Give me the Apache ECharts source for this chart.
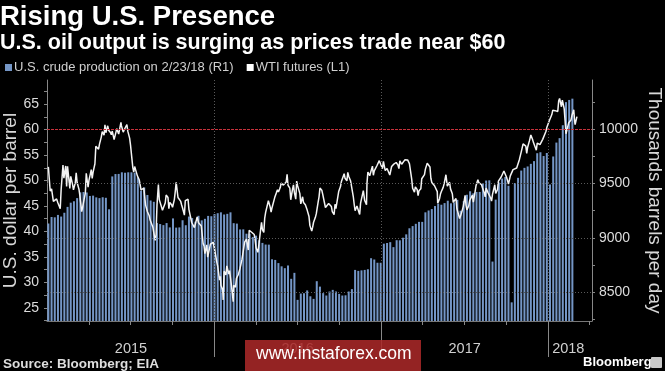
<!DOCTYPE html>
<html><head><meta charset="utf-8">
<script src="https://cdn.jsdelivr.net/npm/echarts@6/dist/echarts.min.js"></script>
<style>html,body{margin:0;padding:0;background:#000}#c{width:665px;height:371px}</style>
</head><body><div id="c"></div>
<script>
// ---- DATA ----
// Weekly U.S. crude production (thousand b/d), one value per Friday from 2015-01-02 to 2018-02-23
const prod2015 = [9132,9192,9189,9211,9196,9231,9285,9324,9337,9366,
  9419,9422,9418,9386,9389,9373,9366,9374,9369,9263,
  9566,9588,9589,9604,9600,9604,9604,9600,9558,9435,
  9465,9395,9344,9332,9136,9127,9117,9136,9096,9179,
  9094,9096,9162,9116,9196,9182,9149,9203,9161,9175,
  9202,9199];
const prod2016 = [9219,9227,9235,9215,9221,9235,9135,9131,9077,9078,
  9038,9038,9008,9020,8977,8953,8938,8937,8802,8796,
  8767,8737,8720,8745,8622,8677,8428,8486,8489,8515,
  8461,8437,8600,8550,8490,8468,8505,8520,8505,8483,
  8468,8470,8505,8527,8704,8695,8700,8704,8710,8812,
  8800,8770,8770];
const prod2017 = [8946,8952,8960,8914,8978,8977,9001,9032,9088,9108,
  9129,9147,9147,9235,9252,9265,9293,9314,9305,9320,
  9342,9318,9327,9350,9250,9338,9397,9429,9410,9423,
  9423,9502,9528,9530,8781,9352,9510,9547,9561,9480,
  8405,9505,9553,9620,9645,9658,9682,9707,9780,9789,
  9754,9782];
const prod2018 = [9492,9750,9878,9919,10038,10251,10271,10283];
const firstProdWeek = '2015-01-02';

// WTI front-month futures (USD/bbl)
const wti = [
['2015-01-02',52.69],['2015-01-06',47.93],['2015-01-09',48.36],['2015-01-13',45.89],['2015-01-15',46.25],['2015-01-20',46.39],['2015-01-23',45.59],['2015-01-28',44.45],['2015-01-30',48.24],['2015-02-03',53.05],['2015-02-05',50.48],['2015-02-09',52.86],['2015-02-11',48.84],['2015-02-13',52.78],['2015-02-18',48.45],['2015-02-20',50.81],['2015-02-24',49.24],['2015-02-26',48.17],['2015-03-02',49.59],['2015-03-04',51.53],['2015-03-06',49.61],['2015-03-10',48.29],['2015-03-12',47.05],['2015-03-16',43.88],['2015-03-18',44.66],['2015-03-20',45.72],['2015-03-24',47.51],['2015-03-26',51.43],['2015-03-30',48.68],['2015-04-01',50.09],['2015-04-06',52.14],['2015-04-08',50.42],['2015-04-10',51.64],['2015-04-14',53.29],['2015-04-16',56.71],['2015-04-20',56.38],['2015-04-22',56.16],['2015-04-24',57.15],['2015-04-28',58.58],['2015-04-30',59.63],['2015-05-04',58.93],['2015-05-06',60.93],['2015-05-08',59.39],['2015-05-12',60.75],['2015-05-14',59.88],['2015-05-18',59.43],['2015-05-20',58.98],['2015-05-22',59.72],['2015-05-26',58.03],['2015-05-28',57.68],['2015-06-01',60.20],['2015-06-03',59.64],['2015-06-05',59.13],['2015-06-10',61.43],['2015-06-11',60.77],['2015-06-15',59.52],['2015-06-17',59.92],['2015-06-19',59.61],['2015-06-23',61.01],['2015-06-25',59.70],['2015-06-29',58.33],['2015-07-01',56.96],['2015-07-06',52.53],['2015-07-08',51.65],['2015-07-10',52.74],['2015-07-14',53.04],['2015-07-16',50.91],['2015-07-20',50.15],['2015-07-22',49.19],['2015-07-24',48.14],['2015-07-28',47.98],['2015-07-30',48.52],['2015-08-03',45.17],['2015-08-05',45.15],['2015-08-07',43.87],['2015-08-11',43.08],['2015-08-13',42.23],['2015-08-17',41.87],['2015-08-19',40.80],['2015-08-21',40.45],['2015-08-24',38.24],['2015-08-26',39.31],['2015-08-27',42.56],['2015-08-28',45.22],['2015-08-31',49.20],['2015-09-02',46.25],['2015-09-04',46.05],['2015-09-09',44.15],['2015-09-11',44.63],['2015-09-15',45.59],['2015-09-17',47.15],['2015-09-21',46.68],['2015-09-23',44.48],['2015-09-25',45.70],['2015-09-29',45.23],['2015-10-01',44.74],['2015-10-05',46.26],['2015-10-07',47.81],['2015-10-09',49.63],['2015-10-13',46.66],['2015-10-15',46.38],['2015-10-19',45.89],['2015-10-21',45.20],['2015-10-23',44.60],['2015-10-27',43.20],['2015-10-29',46.06],['2015-11-02',46.14],['2015-11-04',46.32],['2015-11-06',44.29],['2015-11-10',44.21],['2015-11-12',41.75],['2015-11-16',41.74],['2015-11-18',40.75],['2015-11-20',40.39],['2015-11-24',42.87],['2015-11-27',41.71],['2015-12-01',41.85],['2015-12-03',41.08],['2015-12-07',37.65],['2015-12-09',37.16],['2015-12-11',35.62],['2015-12-15',37.35],['2015-12-17',34.95],['2015-12-21',34.74],['2015-12-23',37.50],['2015-12-29',37.87],['2015-12-31',37.04],
['2016-01-04',36.76],['2016-01-06',33.97],['2016-01-08',33.16],['2016-01-12',30.44],['2016-01-14',31.20],['2016-01-15',29.42],['2016-01-19',28.46],['2016-01-20',26.55],['2016-01-22',32.19],['2016-01-26',31.45],['2016-01-28',33.22],['2016-02-01',31.62],['2016-02-03',32.28],['2016-02-05',30.89],['2016-02-09',27.94],['2016-02-11',26.21],['2016-02-12',29.44],['2016-02-16',29.04],['2016-02-18',30.77],['2016-02-22',31.48],['2016-02-24',32.15],['2016-02-26',32.78],['2016-03-01',34.40],['2016-03-03',34.57],['2016-03-07',37.90],['2016-03-09',38.29],['2016-03-11',38.50],['2016-03-15',36.34],['2016-03-17',40.20],['2016-03-21',39.91],['2016-03-23',39.79],['2016-03-28',39.39],['2016-03-30',38.32],['2016-04-01',36.79],['2016-04-05',35.89],['2016-04-07',37.26],['2016-04-11',40.36],['2016-04-13',41.76],['2016-04-15',40.36],['2016-04-18',39.78],['2016-04-20',42.63],['2016-04-22',43.73],['2016-04-26',44.04],['2016-04-28',46.03],['2016-05-02',44.78],['2016-05-04',43.78],['2016-05-06',44.66],['2016-05-10',44.66],['2016-05-12',46.70],['2016-05-16',47.72],['2016-05-18',48.19],['2016-05-20',47.75],['2016-05-24',48.62],['2016-05-26',49.48],['2016-05-31',49.10],['2016-06-02',49.17],['2016-06-06',49.69],['2016-06-08',51.23],['2016-06-10',49.07],['2016-06-14',48.49],['2016-06-16',46.21],['2016-06-20',48.37],['2016-06-22',49.13],['2016-06-24',47.64],['2016-06-27',46.33],['2016-06-29',49.88],['2016-07-01',48.99],['2016-07-06',47.43],['2016-07-08',45.41],['2016-07-12',46.80],['2016-07-14',45.68],['2016-07-18',45.24],['2016-07-20',44.94],['2016-07-22',44.19],['2016-07-26',42.92],['2016-07-28',41.14],['2016-08-01',40.06],['2016-08-03',40.83],['2016-08-05',41.80],['2016-08-09',42.77],['2016-08-11',43.49],['2016-08-15',45.74],['2016-08-17',46.79],['2016-08-19',48.52],['2016-08-23',48.10],['2016-08-25',47.33],['2016-08-29',46.98],['2016-08-31',44.70],['2016-09-02',44.44],['2016-09-07',45.50],['2016-09-09',45.88],['2016-09-13',44.90],['2016-09-15',43.91],['2016-09-19',43.30],['2016-09-21',45.34],['2016-09-23',44.48],['2016-09-27',44.67],['2016-09-29',47.83],['2016-10-03',48.81],['2016-10-05',49.83],['2016-10-07',49.81],['2016-10-11',51.35],['2016-10-13',50.44],['2016-10-17',49.94],['2016-10-19',51.60],['2016-10-21',50.85],['2016-10-25',49.96],['2016-10-27',49.72],['2016-10-31',46.86],['2016-11-02',45.34],['2016-11-04',44.07],['2016-11-08',44.98],['2016-11-10',44.66],['2016-11-14',43.32],['2016-11-16',45.57],['2016-11-18',45.69],['2016-11-22',48.03],['2016-11-25',46.06],['2016-11-29',45.23],['2016-11-30',49.44],['2016-12-02',51.68],['2016-12-06',50.93],['2016-12-08',50.84],['2016-12-12',52.83],['2016-12-14',51.04],['2016-12-16',51.90],['2016-12-20',52.23],['2016-12-22',52.95],['2016-12-27',53.90],['2016-12-30',53.72],
['2017-01-03',52.33],['2017-01-05',53.76],['2017-01-09',51.96],['2017-01-11',52.25],['2017-01-13',52.37],['2017-01-17',52.48],['2017-01-19',51.08],['2017-01-23',52.75],['2017-01-25',52.75],['2017-01-27',53.17],['2017-01-31',52.81],['2017-02-02',53.54],['2017-02-06',53.01],['2017-02-08',52.34],['2017-02-10',53.86],['2017-02-14',53.20],['2017-02-16',53.36],['2017-02-21',54.06],['2017-02-23',54.45],['2017-02-27',54.05],['2017-03-01',53.83],['2017-03-03',53.33],['2017-03-07',53.14],['2017-03-08',50.28],['2017-03-10',48.49],['2017-03-14',47.72],['2017-03-16',48.75],['2017-03-20',48.22],['2017-03-22',47.04],['2017-03-24',47.97],['2017-03-28',48.37],['2017-03-30',50.35],['2017-04-03',50.24],['2017-04-05',51.15],['2017-04-07',52.24],['2017-04-11',53.40],['2017-04-13',53.18],['2017-04-17',52.65],['2017-04-19',50.44],['2017-04-21',49.62],['2017-04-25',49.56],['2017-04-27',48.97],['2017-05-01',48.84],['2017-05-03',47.82],['2017-05-04',45.52],['2017-05-08',46.43],['2017-05-10',47.33],['2017-05-12',47.84],['2017-05-16',48.66],['2017-05-18',49.35],['2017-05-22',51.13],['2017-05-24',51.36],['2017-05-25',48.90],['2017-05-30',49.66],['2017-06-01',48.36],['2017-06-05',47.40],['2017-06-07',45.72],['2017-06-09',45.83],['2017-06-13',46.46],['2017-06-15',44.46],['2017-06-19',44.20],['2017-06-21',42.53],['2017-06-23',43.01],['2017-06-27',44.24],['2017-06-29',44.93],['2017-07-03',47.07],['2017-07-05',45.13],['2017-07-07',44.23],['2017-07-11',45.04],['2017-07-13',46.08],['2017-07-17',46.02],['2017-07-19',47.12],['2017-07-21',45.77],['2017-07-25',47.89],['2017-07-27',49.04],['2017-07-31',50.17],['2017-08-02',49.59],['2017-08-04',49.58],['2017-08-08',49.17],['2017-08-10',48.59],['2017-08-14',47.59],['2017-08-16',46.78],['2017-08-18',48.51],['2017-08-22',47.64],['2017-08-24',47.43],['2017-08-28',46.57],['2017-08-30',45.96],['2017-09-01',47.29],['2017-09-06',49.16],['2017-09-08',47.48],['2017-09-12',48.23],['2017-09-14',49.89],['2017-09-18',49.91],['2017-09-20',50.69],['2017-09-22',50.66],['2017-09-26',51.88],['2017-09-28',51.56],['2017-10-02',50.58],['2017-10-04',49.98],['2017-10-06',49.29],['2017-10-10',50.92],['2017-10-12',50.60],['2017-10-16',52.15],['2017-10-18',52.04],['2017-10-20',51.84],['2017-10-24',52.47],['2017-10-26',52.64],['2017-10-30',54.15],['2017-11-01',54.30],['2017-11-03',55.64],['2017-11-07',57.20],['2017-11-09',57.17],['2017-11-13',56.76],['2017-11-15',55.33],['2017-11-17',56.55],['2017-11-21',57.83],['2017-11-24',58.95],['2017-11-28',57.99],['2017-11-30',57.40],['2017-12-04',57.47],['2017-12-06',55.96],['2017-12-08',57.36],['2017-12-12',57.14],['2017-12-14',57.04],['2017-12-18',57.16],['2017-12-20',58.09],['2017-12-22',58.47],['2017-12-27',59.64],['2017-12-29',60.42],
['2018-01-03',61.63],['2018-01-05',61.44],['2018-01-09',62.96],['2018-01-11',63.80],['2018-01-16',63.73],['2018-01-18',63.95],['2018-01-22',63.57],['2018-01-24',65.61],['2018-01-26',66.14],['2018-01-30',64.50],['2018-02-01',65.80],['2018-02-05',64.15],['2018-02-07',61.79],['2018-02-09',59.20],['2018-02-13',59.19],['2018-02-15',61.34],['2018-02-20',61.90],['2018-02-22',62.77],['2018-02-26',63.91],['2018-02-28',61.64],['2018-03-01',60.99],['2018-03-02',61.25],['2018-03-05',62.57]
];

const seriesNames = ['U.S. crude production on 2/23/18 (R1)', 'WTI futures (L1)'];
const leftTickLabels = [25, 30, 35, 40, 45, 50, 55, 60, 65];
const leftTicks = [22.5, 25, 27.5, 30, 32.5, 35, 37.5, 40, 42.5, 45, 47.5, 50, 52.5, 55, 57.5, 60, 62.5, 65, 67.5];
const rightTickLabels = [8500, 9000, 9500, 10000];
const rightTicks = [8250, 8500, 8750, 9000, 9250, 9500, 9750, 10000, 10250];
const gridLevels = [8500, 9000, 9500];
const refPrice = 60;
const yearLabels = ['2015', '2016', '2017', '2018'];
const yearLabelDates = ['2015-07-02', '2016-07-01', '2017-07-02', '2018-02-14'];
const yearStarts = ['2016-01-01', '2017-01-01', '2018-01-01'];
const quarterTicks = ['2015-04-01','2015-07-01','2015-10-01','2016-01-01','2016-04-01','2016-07-01','2016-10-01','2017-01-01','2017-04-01','2017-07-01','2017-10-01','2018-01-01','2018-04-01'];
const xMin = '2014-12-30', xMax = '2018-04-07';

// ---- BUILD ----
function ts(s) { const p = s.split('-').map(Number); return new Date(p[0], p[1] - 1, p[2]).getTime(); }
const prodValues = prod2015.concat(prod2016, prod2017, prod2018);
const fp = firstProdWeek.split('-').map(Number);
const prodData = prodValues.map((v, i) => [new Date(fp[0], fp[1] - 1, fp[2] + 7 * i).getTime(), v]);
const wtiData = wti.map(d => [ts(d[0]), d[1]]);
const yearLabelTs = yearLabelDates.map(ts);

const FONT = '"Liberation Sans", Arial, sans-serif';
const BAR = '#7496c6';

const chart = echarts.init(document.getElementById('c'), null, { renderer: 'canvas' });
chart.setOption({
  backgroundColor: '#000',
  animation: false,
  title: [
    { text: 'Rising U.S. Presence', left: 0, top: 3, padding: 0,
      textStyle: { color: '#fff', fontSize: 27.5, fontWeight: 'bold', fontFamily: FONT } },
    { text: 'U.S. oil output is surging as prices trade near $60', left: 0, top: 32.5, padding: 0,
      textStyle: { color: '#fff', fontSize: 21.5, fontWeight: 'bold', fontFamily: FONT } }
  ],
  legend: {
    data: seriesNames, left: 5, top: 61, padding: 0, itemGap: 13, itemWidth: 7, itemHeight: 7,
    icon: 'rect', selectedMode: false,
    textStyle: { color: '#cfcfcf', fontSize: 13, fontFamily: FONT, padding: [0, 0, 0, -3] }
  },
  grid: { left: 47, right: 73, top: 80, bottom: 50, containLabel: false, outerBoundsMode: 'none' },
  xAxis: [
    { type: 'value', min: ts(xMin), max: ts(xMax),
      axisLine: { show: true, lineStyle: { color: '#777', width: 1 } },
      axisTick: { show: true, customValues: quarterTicks.map(ts), length: 4, lineStyle: { color: '#888' } },
      axisLabel: { show: true, customValues: yearLabelTs, margin: 20, color: '#d0d0d0', fontSize: 14.5, fontFamily: FONT,
        formatter: function (v) {
          for (let k = 0; k < yearLabelTs.length; k++) if (Math.abs(yearLabelTs[k] - v) < 86400000) return yearLabels[k];
          return '';
        } },
      splitLine: { show: false } },
    { type: 'value', min: ts(xMin), max: ts(xMax), position: 'bottom',
      axisLine: { show: false },
      axisTick: { show: true, customValues: yearStarts.map(ts), length: 36, lineStyle: { color: '#888' } },
      axisLabel: { show: false }, splitLine: { show: false } }
  ],
  yAxis: [
    { type: 'value', position: 'left', min: 22.4, max: 69.75,
      name: 'U.S. dollar per barrel', nameLocation: 'middle', nameGap: 27, nameMoveOverlap: false,
      nameTextStyle: { color: '#d8d8d8', fontSize: 19, fontFamily: FONT },
      axisLine: { show: true, lineStyle: { color: '#888' } },
      axisTick: { show: true, customValues: leftTicks, length: 3, lineStyle: { color: '#888' } },
      axisLabel: { customValues: leftTickLabels, color: '#dcdcdc', fontSize: 14, fontFamily: FONT, margin: 8,
        formatter: v => String(v) },
      splitLine: { show: false } },
    { type: 'value', position: 'right', min: 8233, max: 10455,
      name: 'Thousands barrels per day', nameLocation: 'middle', nameGap: 53, nameRotate: -90, nameMoveOverlap: false,
      nameTextStyle: { color: '#d8d8d8', fontSize: 19, fontFamily: FONT },
      axisLine: { show: true, lineStyle: { color: '#888' } },
      axisTick: { show: true, customValues: rightTicks, length: 3, lineStyle: { color: '#888' } },
      axisLabel: { customValues: rightTickLabels, color: '#dcdcdc', fontSize: 14, fontFamily: FONT, margin: 7,
        formatter: v => String(v) },
      splitLine: { show: false } }
  ],
  series: [
    { name: seriesNames[0], type: 'bar', xAxisIndex: 0, yAxisIndex: 1, data: prodData,
      barWidth: 2, itemStyle: { color: BAR }, z: 2, silent: true,
      markLine: { silent: true, symbol: 'none', label: { show: false }, animation: false,
        lineStyle: { color: '#5a5a5a', type: [1, 2], width: 1 },
        data: gridLevels.map(v => ({ yAxis: v })).concat(yearStarts.map(d => ({ xAxis: ts(d) }))) } },
    { name: seriesNames[1], type: 'line', xAxisIndex: 0, yAxisIndex: 0, data: wtiData,
      showSymbol: false, symbol: 'none', lineStyle: { color: '#f4f4f4', width: 1.5 }, itemStyle: { color: '#ffffff' },
      z: 4, silent: true,
      markLine: { silent: true, symbol: 'none', label: { show: false }, animation: false,
        lineStyle: { color: '#c8323c', type: [3, 1], width: 1 }, data: [{ yAxis: refPrice }] } }
  ],
  graphic: [
    { type: 'text', left: 3, top: 357, style: { text: 'Source: Bloomberg; EIA', fill: '#dedede', fontSize: 13.5, fontWeight: 'bold', fontFamily: FONT } },
    { type: 'rect', shape: { x: 245, y: 340, width: 176, height: 31 }, style: { fill: 'rgba(168,40,40,0.88)' }, z: 100 },
    { type: 'text', left: 256, top: 345, z: 101, style: { text: 'www.instaforex.com', fill: '#ffffff', fontSize: 17.5, fontFamily: FONT } },
    { type: 'text', left: 583, top: 356, style: { text: 'Bloomberg', fill: '#ffffff', fontSize: 13, fontWeight: 'bold', fontFamily: FONT } },
    { type: 'rect', shape: { x: 651, y: 357, width: 11, height: 11, r: 1 }, style: { fill: '#c8c8c8' } }
  ]
});
</script></body></html>
